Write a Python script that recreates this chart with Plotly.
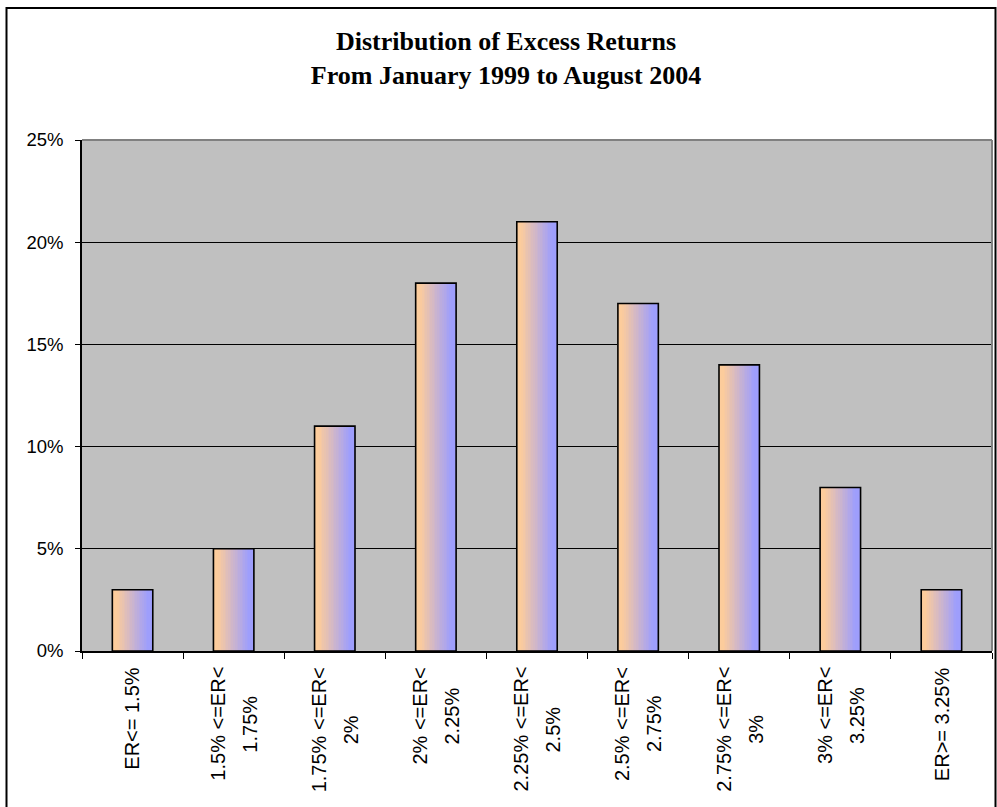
import plotly.graph_objects as go

# ---- data ----
categories = ["ER<= 1.5%", "1.5% <=ER<|1.75%", "1.75% <=ER<|2%", "2% <=ER<|2.25%",
              "2.25% <=ER<|2.5%", "2.5% <=ER<|2.75%", "2.75% <=ER<|3%",
              "3% <=ER<|3.25%", "ER>= 3.25%"]
shares = [0.03, 0.05, 0.11, 0.18, 0.21, 0.17, 0.14, 0.08, 0.03]
title_lines = ["Distribution of Excess Returns", "From January 1999 to August 2004"]

# ---- layout constants ----
W, H = 997, 807
ML, MR, MT, MB = 82, 5, 140, 156
PW, PH = W - ML - MR, H - MT - MB
BW = 0.4
N = 24
c0 = (252, 204, 156)
c1 = (158, 158, 252)

fig = go.Figure()

# gradient slices
for k in range(N):
    t = (k + 0.5) / N
    u = min(1.0, max(0.0, (t - 0.12) / 0.76))
    col = tuple(round(c0[i] + (c1[i] - c0[i]) * u) for i in range(3))
    fig.add_trace(go.Bar(
        x=categories, y=shares,
        width=BW / N * 1.08, offset=-BW / 2 + k * BW / N,
        marker=dict(color="rgb(%d,%d,%d)" % col, line=dict(width=0)),
        showlegend=False, hoverinfo="skip"))

# outline
fig.add_trace(go.Bar(
    x=categories, y=shares, width=BW, offset=-BW / 2,
    marker=dict(color="rgba(0,0,0,0)", line=dict(color="black", width=1.6)),
    showlegend=False, hovertemplate="%{y:.0%}<extra></extra>"))

# x labels as rotated annotations (Excel-style centered lines)
arial = {c: 0.556 for c in "0123456789"}
arial.update({".": 0.278, "%": 0.889, " ": 0.278, "<": 0.584, ">": 0.584,
              "=": 0.584, "E": 0.667, "R": 0.722})
FS = 20
annotations = []
for cat in categories:
    lines = cat.split("|")
    maxlen = max(sum(arial.get(ch, 0.55) for ch in ln) for ln in lines) * FS
    n = len(lines)
    for j, ln in enumerate(lines):
        xs = 0 if n == 1 else (-16 if j == 0 else 16)
        annotations.append(dict(
            x=cat, y=0, xref="x", yref="paper", text=ln, showarrow=False,
            textangle=-90, xanchor="center", yanchor="middle",
            xshift=xs, yshift=-(16 + maxlen / 2),
            font=dict(family="Liberation Sans, Arial, sans-serif", size=FS, color="black")))

shapes = [
    dict(type="line", xref="paper", yref="paper", x0=0, x1=1, y0=1, y1=1,
         line=dict(color="#808080", width=2), layer="above"),
    dict(type="line", xref="paper", yref="paper", x0=1, x1=1, y0=0, y1=1,
         line=dict(color="#808080", width=2), layer="above"),
    dict(type="rect", xref="paper", yref="paper",
         x0=(6.5 - ML) / PW, x1=(995.5 - ML) / PW,
         y0=(H - MB - 815) / PH, y1=(H - MB - 8) / PH,
         line=dict(color="black", width=2), fillcolor="rgba(0,0,0,0)", layer="above"),
]

fig.update_layout(
    width=W, height=H,
    margin=dict(l=ML, r=MR, t=MT, b=MB, autoexpand=False),
    paper_bgcolor="white", plot_bgcolor="#C0C0C0",
    barmode="overlay",
    title=dict(
        text="<b>" + "<br>".join(title_lines) + "</b>",
        x=506 / W, y=1 - 50 / H, xref="container", yref="container",
        xanchor="center", yanchor="middle",
        font=dict(family="Liberation Serif, Times New Roman, serif", size=26, color="black")),
    xaxis=dict(
        showticklabels=False, ticks="outside", tickson="boundaries", ticklen=6,
        tickcolor="black", tickwidth=1, showline=True, linecolor="black", linewidth=1.5,
        showgrid=False, zeroline=False, fixedrange=True),
    yaxis=dict(
        range=[0, 0.25], tick0=0, dtick=0.05, tickformat=".0%",
        ticks="outside", ticklen=5, tickcolor="black", tickwidth=1,
        showline=True, linecolor="black", linewidth=1.5,
        showgrid=True, gridcolor="black", gridwidth=1, zeroline=False,
        ticklabelstandoff=8,
        tickfont=dict(family="Liberation Sans, Arial, sans-serif", size=18.5, color="black"),
        fixedrange=True),
    annotations=annotations,
    shapes=shapes,
)

fig.write_html("out.html")
